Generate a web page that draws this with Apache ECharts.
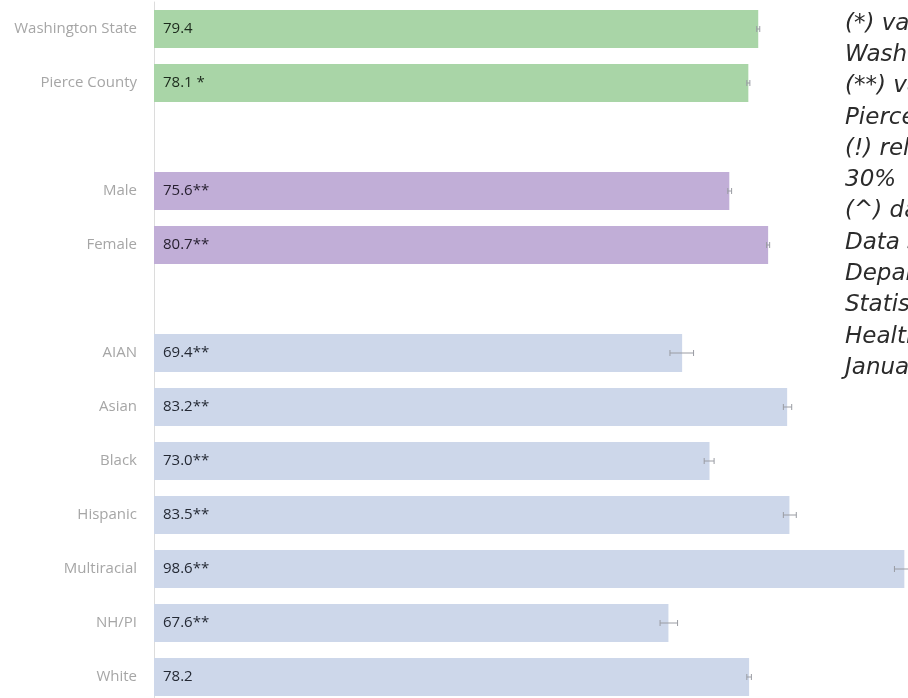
<!DOCTYPE html>
<html>
<head>
<meta charset="utf-8">
<script src="https://cdn.jsdelivr.net/npm/echarts@6/dist/echarts.min.js"></script>
<style>html,body{margin:0;padding:0;background:#fff;}#c{width:908px;height:698px;}</style>
</head>
<body>
<div id="c"></div>
<script>
const categories = ['Washington State','Pierce County',' ','Male','Female','  ','AIAN','Asian','Black','Hispanic','Multiracial','NH/PI','White'];
const values = [79.4, 78.1, null, 75.6, 80.7, null, 69.4, 83.2, 73.0, 83.5, 98.6, 67.6, 78.2];
const flags = ['', ' *', '', '**', '**', '', '**', '**', '**', '**', '**', '**', ''];
const groups = ['geo','geo',null,'sex','sex',null,'race','race','race','race','race','race','race'];
const lower = [79.2, 77.9, null, 75.4, 80.5, null, 67.8, 82.7, 72.3, 82.7, 97.3, 66.5, 77.9];
const upper = [79.6, 78.3, null, 75.9, 80.9, null, 70.9, 83.8, 73.6, 84.4, 99.9, 68.8, 78.5];
const noteLines = [
  '(*) value significantly different from',
  'Washington State',
  '(**) value significantly different from',
  'Pierce County',
  '(!) relative standard error greater than',
  '30%',
  '(^) data suppressed',
  'Data Source: Washington State',
  'Department of Health, Center for Health',
  'Statistics, Community',
  'Health Assessment Tool (CHAT),',
  'January 2024'
];

const groupColor = {geo: '#a9d5a7', sex: '#c1aed7', race: '#cdd7ea'};
const groupText = {geo: '#1c2a1c', sex: '#272030', race: '#242934'};

const barData = values.map((v, i) => v === null ? '-' : {
  value: v,
  itemStyle: {color: groupColor[groups[i]]},
  label: {color: groupText[groups[i]]}
});
const errData = [];
lower.forEach((lo, i) => { if (lo !== null) errData.push([lo, upper[i], i]); });

const chart = echarts.init(document.getElementById('c'), null, {renderer: 'canvas'});
chart.setOption({
  animation: false,
  backgroundColor: '#ffffff',
  grid: {left: 154, top: 2, width: 761, height: 702, containLabel: false, outerBoundsMode: 'none'},
  xAxis: {type: 'value', min: 0, max: 100, show: false},
  yAxis: {
    type: 'category', inverse: true, data: categories,
    axisLine: {show: true, lineStyle: {color: '#dcdcdc', width: 1}},
    axisTick: {show: false},
    splitLine: {show: false},
    axisLabel: {color: '#a6a6a6', fontSize: 15, fontFamily: 'Open Sans', margin: 17}
  },
  series: [
    {
      type: 'bar', data: barData, barWidth: 38,
      label: {
        show: true, position: 'insideLeft', distance: 9,
        fontSize: 15, fontFamily: 'Open Sans',
        formatter: p => values[p.dataIndex].toFixed(1) + flags[p.dataIndex]
      }
    },
    {
      type: 'custom', data: errData, encode: {x: [0, 1], y: 2}, z: 5,
      renderItem: (params, api) => {
        const y = api.value(2);
        const a = api.coord([api.value(0), y]);
        const b = api.coord([api.value(1), y]);
        const h = 3;
        const st = {stroke: '#9a9ca3', lineWidth: 1};
        return {type: 'group', children: [
          {type: 'line', shape: {x1: a[0], y1: a[1], x2: b[0], y2: b[1]}, style: st},
          {type: 'line', shape: {x1: a[0], y1: a[1]-h, x2: a[0], y2: a[1]+h}, style: st},
          {type: 'line', shape: {x1: b[0], y1: b[1]-h, x2: b[0], y2: b[1]+h}, style: st}
        ]};
      }
    }
  ],
  graphic: [{
    type: 'text', left: 845, top: 8, z: 10,
    style: {
      text: noteLines.join('\n'),
      font: 'italic 23px "DejaVu Sans"',
      lineHeight: 31.3,
      fill: '#2b2b2b'
    }
  }]
});
</script>
</body>
</html>
